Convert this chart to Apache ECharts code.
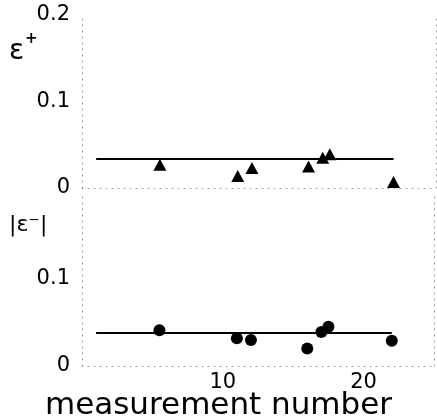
<!DOCTYPE html>
<html>
<head>
<meta charset="utf-8">
<script src="https://cdn.jsdelivr.net/npm/echarts@6/dist/echarts.min.js"></script>
<style>
  html, body { margin: 0; padding: 0; background: #fff; }
  #chart { width: 437px; height: 419px; }
</style>
</head>
<body>
<div id="chart"></div>
<script>
// measurement numbers of the marked points
const measX = [5.5, 11, 12, 16, 17, 17.5, 22];
// epsilon+ (triangles, top panel)
const epsPlus = [0.027, 0.014, 0.023, 0.025, 0.035, 0.039, 0.007];
// |epsilon-| (circles, bottom panel)
const epsMinus = [0.041, 0.032, 0.030, 0.020, 0.039, 0.045, 0.029];
// mean lines
const meanX = [1, 22];
const meanPlus = 0.0335;
const meanMinus = 0.038;
const xTicks = [10, 20];

const font = 'DejaVu Sans';
const dotted = { show: true, lineStyle: { color: '#999', type: [1, 5], width: 1 } };

function pairs(xs, ys) {
  return xs.map((x, i) => [x, ys[i]]);
}

const chart = echarts.init(document.getElementById('chart'));

const option = {
  backgroundColor: '#fff',
  animation: false,
  grid: [
    { left: 82, right: 1, top: 15, height: 173 },
    { left: 82, right: 1, top: 192, height: 174 }
  ],
  xAxis: [0, 1].map(g => ({
    type: 'value',
    gridIndex: g,
    min: 0,
    max: 25,
    interval: 10,
    axisLine: dotted,
    axisTick: { show: false },
    splitLine: { show: false },
    axisLabel: {
      show: g === 1,
      margin: 6,
      color: '#000',
      fontFamily: font,
      fontSize: 21,
      formatter: v => (xTicks.indexOf(v) >= 0 ? String(v) : '')
    }
  })),
  yAxis: [
    {
      type: 'value', gridIndex: 0, min: 0, max: 0.2, interval: 0.1,
      axisLine: dotted, axisTick: { show: false }, splitLine: { show: false },
      axisLabel: { margin: 12, color: '#000', fontFamily: font, fontSize: 21,
        formatter: v => (v === 0 ? '0' : v.toFixed(1)) }
    },
    {
      type: 'value', gridIndex: 1, min: 0, max: 0.2, interval: 0.1,
      axisLine: dotted, axisTick: { show: false }, splitLine: { show: false },
      axisLabel: { margin: 12, color: '#000', fontFamily: font, fontSize: 21,
        formatter: v => (v === 0 ? '0' : (Math.abs(v - 0.1) < 1e-9 ? '0.1' : '')) }
    },
    {
      type: 'value', gridIndex: 0, position: 'right', min: 0, max: 0.2,
      axisLine: dotted, axisTick: { show: false }, splitLine: { show: false }, axisLabel: { show: false }
    },
    {
      type: 'value', gridIndex: 1, position: 'right', min: 0, max: 0.2,
      axisLine: dotted, axisTick: { show: false }, splitLine: { show: false }, axisLabel: { show: false }
    }
  ],
  series: [
    {
      type: 'line', xAxisIndex: 0, yAxisIndex: 0,
      data: meanX.map(x => [x, meanPlus]),
      showSymbol: false, lineStyle: { color: '#000', width: 2 }
    },
    {
      type: 'line', xAxisIndex: 1, yAxisIndex: 1,
      data: meanX.map(x => [x, meanMinus]),
      showSymbol: false, lineStyle: { color: '#000', width: 2 }
    },
    {
      type: 'scatter', xAxisIndex: 0, yAxisIndex: 0,
      data: pairs(measX, epsPlus),
      symbol: 'triangle', symbolSize: [13, 12],
      itemStyle: { color: '#000', opacity: 1 }
    },
    {
      type: 'scatter', xAxisIndex: 1, yAxisIndex: 1,
      data: pairs(measX, epsMinus),
      symbol: 'circle', symbolSize: 12,
      itemStyle: { color: '#000', opacity: 1 }
    }
  ],
  graphic: [
    { type: 'text', left: 9, top: 38, style: { text: 'ε', font: '28px "DejaVu Sans"', fill: '#000' } },
    { type: 'text', left: 25, top: 32, style: { text: '+', font: 'bold 15px "DejaVu Sans"', fill: '#000' } },
    { type: 'text', left: 9, top: 214, style: { text: '|ε⁻|', font: '22px "DejaVu Sans"', fill: '#000' } },
    { type: 'text', left: 'center', top: 390, style: { text: 'measurement number', font: '31px "DejaVu Sans"', fill: '#000' } }
  ]
};

chart.setOption(option);
</script>
</body>
</html>
